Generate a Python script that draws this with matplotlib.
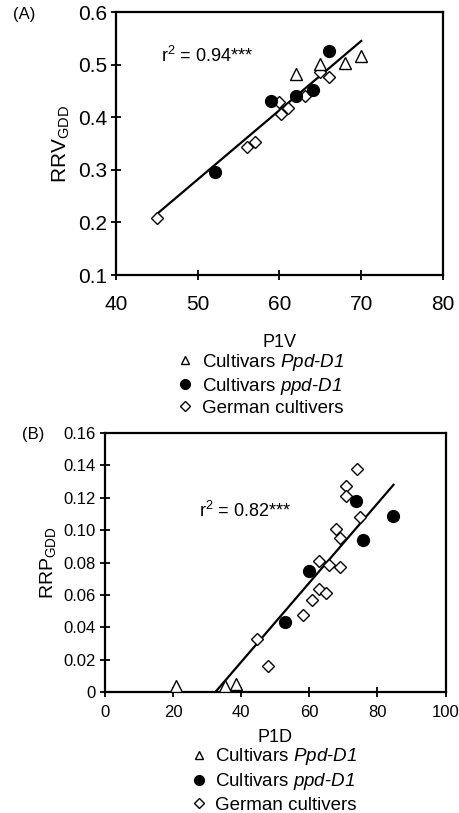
import numpy as np
import matplotlib.pyplot as plt
from matplotlib.lines import Line2D

plt.rcParams['font.family'] = ['Liberation Sans', 'DejaVu Sans']
plt.rcParams['mathtext.fontset'] = 'custom'
plt.rcParams['mathtext.rm'] = 'Liberation Sans'
plt.rcParams['mathtext.it'] = 'Liberation Sans:italic'
plt.rcParams['mathtext.sf'] = 'Liberation Sans:italic'

# --- panel A: P1V vs RRV_GDD ---
a_tri_x = [62.0, 65.0, 68.0, 70.0]
a_tri_y = [0.482, 0.502, 0.503, 0.516]
a_dot_x = [52.1, 59.0, 62.0, 64.1, 66.0]
a_dot_y = [0.295, 0.430, 0.440, 0.452, 0.526]
a_dia_x = [45.0, 56.0, 57.0, 60.0, 60.2, 61.1, 63.1, 65.0, 66.0]
a_dia_y = [0.209, 0.344, 0.352, 0.429, 0.407, 0.418, 0.440, 0.486, 0.477]
a_fit_x = [45.0, 70.0]
a_fit_y = [0.216, 0.545]

# --- panel B: P1D vs RRP_GDD ---
b_tri_x = [20.8, 35.3, 38.6]
b_tri_y = [0.004, 0.004, 0.005]
b_dot_x = [52.7, 59.9, 73.7, 75.8, 84.7]
b_dot_y = [0.0434, 0.0747, 0.1177, 0.0939, 0.109]
b_dia_x = [73.9, 70.8, 70.8, 74.9, 67.9, 68.9, 62.8, 65.9, 68.9, 62.8, 65.0, 60.9, 58.1, 44.7, 48.0]
b_dia_y = [0.1377, 0.1270, 0.1208, 0.1084, 0.1005, 0.0950, 0.0812, 0.0785, 0.0774,
           0.0636, 0.0613, 0.0568, 0.0475, 0.0330, 0.0159]
b_fit_x = [32.4, 84.7]
b_fit_y = [0.0, 0.128]

labels = ['Cultivars $\\mathsf{Ppd}$-$\\mathsf{D1}$', 'Cultivars $\\mathsf{ppd}$-$\\mathsf{D1}$',
          'German cultivers']

tri = dict(marker='^', ms=8, mfc='white', mec='black', mew=1.0, ls='none')
dot = dict(marker='o', ms=8.5, mfc='black', mec='black', ls='none')
dia = dict(marker='D', ms=6, mfc='white', mec='black', mew=1.0, ls='none')

fig = plt.figure(figsize=(4.59, 8.13), dpi=100)


def style(ax, fs, pad):
    for s in ax.spines.values():
        s.set_linewidth(1.6)
    ax.tick_params(direction='inout', length=7, width=1.3, labelsize=fs, pad=3)
    ax.tick_params(axis='x', pad=pad)


def panel(ax, tx, ty, dx, dy, gx, gy, fx, fy):
    ax.plot(fx, fy, color='black', lw=1.6, zorder=2)
    ax.plot(gx, gy, **dia, zorder=3)
    ax.plot(tx, ty, **tri, zorder=3)
    ax.plot(dx, dy, **dot, zorder=4)


# panel A
ax1 = fig.add_axes([0.2527, 0.6617, 0.7124, 0.3235])
panel(ax1, a_tri_x, a_tri_y, a_dot_x, a_dot_y, a_dia_x, a_dia_y, a_fit_x, a_fit_y)
ax1.set_xlim(40, 80)
ax1.set_ylim(0.1, 0.6)
ax1.set_xticks([40, 50, 60, 70, 80])
ax1.set_yticks([0.1, 0.2, 0.3, 0.4, 0.5, 0.6])
style(ax1, 15, 11)
ax1.set_xlabel('P1V', fontsize=13, labelpad=14)
ax1.set_ylabel('RRV$_{\\mathrm{GDD}}$', fontsize=15, labelpad=4)
ax1.text(45.5, 0.505, 'r$^2$ = 0.94***', fontsize=13)
fig.text(0.028, 0.977, '(A)', fontsize=12)

# panel B
ax2 = fig.add_axes([0.2288, 0.1488, 0.7420, 0.3186])
panel(ax2, b_tri_x, b_tri_y, b_dot_x, b_dot_y, b_dia_x, b_dia_y, b_fit_x, b_fit_y)
ax2.set_xlim(0, 100)
ax2.set_ylim(0, 0.16)
ax2.set_xticks([0, 20, 40, 60, 80, 100])
ax2.set_yticks(np.arange(0, 0.161, 0.02))
ax2.yaxis.set_major_formatter(lambda v, p: '0' if v == 0 else f'{v:.2f}')
style(ax2, 12, 6)
ax2.set_xlabel('P1D', fontsize=13, labelpad=6)
ax2.set_ylabel('RRP$_{\\mathrm{GDD}}$', fontsize=14, labelpad=4)
ax2.text(27.5, 0.108, 'r$^2$ = 0.82***', fontsize=13)
fig.text(0.048, 0.460, '(B)', fontsize=12)

handles = [Line2D([], [], **dict(tri, ms=6)), Line2D([], [], **dict(dot, ms=7)),
           Line2D([], [], **dict(dia, ms=5))]
fig.legend(handles, labels, loc='upper left', bbox_to_anchor=(0.370, 0.5785), frameon=False,
           fontsize=13.5, handlelength=0.6, handletextpad=0.6, labelspacing=0.15, borderpad=0)
fig.legend(handles, labels, loc='upper left', bbox_to_anchor=(0.400, 0.0935), frameon=False,
           fontsize=13.5, handlelength=0.6, handletextpad=0.6, labelspacing=0.22, borderpad=0)

fig.savefig('out.png', dpi=100)
